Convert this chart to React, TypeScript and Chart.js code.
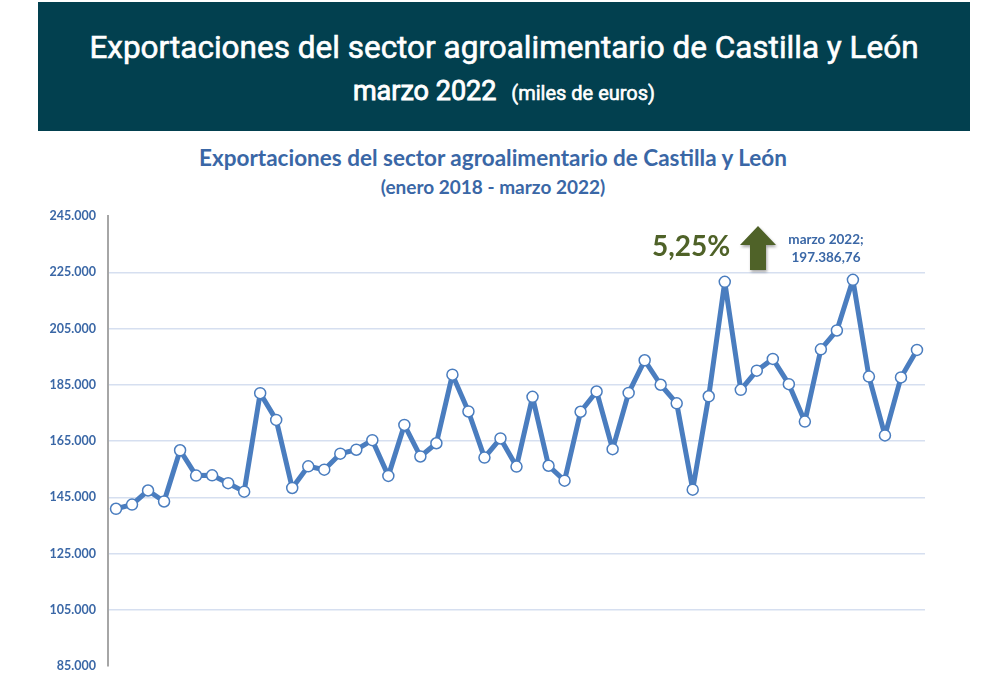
import React, { useEffect, useRef } from "react";
import { Chart, registerables } from "chart.js";

Chart.register(...registerables);

const months = [
  "ene-18","feb-18","mar-18","abr-18","may-18","jun-18","jul-18","ago-18","sep-18","oct-18","nov-18","dic-18",
  "ene-19","feb-19","mar-19","abr-19","may-19","jun-19","jul-19","ago-19","sep-19","oct-19","nov-19","dic-19",
  "ene-20","feb-20","mar-20","abr-20","may-20","jun-20","jul-20","ago-20","sep-20","oct-20","nov-20","dic-20",
  "ene-21","feb-21","mar-21","abr-21","may-21","jun-21","jul-21","ago-21","sep-21","oct-21","nov-21","dic-21",
  "ene-22","feb-22","mar-22",
];

const exportsValues = [
  140900, 142400, 147400, 143500, 161700, 152700, 152800, 150000, 147000, 182000, 172500, 148300,
  156000, 154800, 160500, 161900, 165300, 152600, 170700, 159500, 164200, 188600, 175500, 159100,
  165900, 155900, 180700, 156200, 150900, 175400, 182600, 162100, 182100, 193700, 185000, 178400,
  147700, 180900, 221600, 183200, 190000, 194200, 185200, 171900, 197600, 204300, 222300, 187900,
  167000, 187600, 197386.76,
];

const yMin = 85000;
const yMax = 245000;
const yStep = 20000;

const BLUE_TEXT = "#3A67A6";
const LINE_BLUE = "#4A7DBF";
const GREEN = "#4F6228";

export default function App() {
  const canvasRef = useRef<HTMLCanvasElement | null>(null);

  useEffect(() => {
    document.body.style.margin = "0";
    const canvas = canvasRef.current;
    if (!canvas) return;
    const chart = new Chart(canvas, {
      type: "line",
      data: {
        labels: months,
        datasets: [
          {
            data: exportsValues,
            borderColor: LINE_BLUE,
            borderWidth: 5,
            borderJoinStyle: "round",
            borderCapStyle: "round",
            pointRadius: 5.5,
            pointBorderWidth: 1.5,
            pointBackgroundColor: "#ffffff",
            pointBorderColor: LINE_BLUE,
            tension: 0,
          },
        ],
      },
      options: {
        animation: false,
        responsive: false,
        events: [],
        layout: { padding: { left: 0, right: 73, top: 216, bottom: 23 } },
        plugins: { legend: { display: false }, tooltip: { enabled: false }, title: { display: false } },
        scales: {
          x: {
            type: "category",
            offset: true,
            display: false,
          },
          y: {
            min: yMin,
            max: yMax,
            afterFit: (s: any) => {
              s.width = 108;
            },
            ticks: {
              stepSize: yStep,
              padding: 12,
              color: BLUE_TEXT,
              font: { family: "Lato, 'Open Sans', sans-serif", size: 12.5, weight: "bold" },
              callback: (v: any) => String(Math.round(Number(v))).replace(/\B(?=(\d{3})+(?!\d))/g, "."),
            },
            border: { display: true, color: "#A6A6A6", width: 2 },
            grid: {
              drawTicks: false,
              lineWidth: 1.5,
              color: (ctx: any) => {
                const v = ctx.tick ? ctx.tick.value : 0;
                if (v === yMin || v === yMax) return "rgba(0,0,0,0)";
                return "#D6DFF0";
              },
            },
          },
        },
      },
    });
    return () => chart.destroy();
  }, []);

  const fmt = (v: number) => String(Math.round(v)).replace(/\B(?=(\d{3})+(?!\d))/g, ".");

  return (
    <div style={{ position: "relative", width: 998, height: 689, background: "#fff", overflow: "hidden" }}>
      <div
        style={{
          position: "absolute",
          left: 38,
          top: 2,
          width: 932,
          height: 129,
          background: "#02404F",
          color: "#fff",
          fontFamily: "Roboto, sans-serif",
          textAlign: "center",
          WebkitTextStroke: "0.6px #ffffff",
        }}
      >
        <div style={{ position: "absolute", left: 0, right: 0, top: 27, fontSize: 31.5, fontWeight: 400, lineHeight: "38px" }}>
          Exportaciones del sector agroalimentario de Castilla y León
        </div>
        <div style={{ position: "absolute", left: 0, right: 0, top: 72, lineHeight: "34px", whiteSpace: "pre" }}>
          <span style={{ fontSize: 27, fontWeight: 400, WebkitTextStroke: "0.9px #ffffff" }}>marzo 2022</span>
          <span style={{ fontSize: 20, fontWeight: 400 }}>{"   (miles de euros)"}</span>
        </div>
      </div>
      <div
        style={{
          position: "absolute",
          left: -6,
          width: 998,
          top: 143,
          textAlign: "center",
          color: BLUE_TEXT,
          fontFamily: "Lato, 'Open Sans', sans-serif",
          fontWeight: 700,
          fontSize: 22.5,
          lineHeight: "29px",
        }}
      >
        <div>Exportaciones del sector agroalimentario de Castilla y León</div>
        <div style={{ fontSize: 19 }}>(enero 2018 - marzo 2022)</div>
      </div>
      <canvas ref={canvasRef} width={998} height={689} style={{ position: "absolute", left: 0, top: 0, width: 998, height: 689 }} />
      <div
        style={{
          position: "absolute",
          left: 640,
          top: 228,
          width: 102,
          color: GREEN,
          fontFamily: "Lato, 'Open Sans', sans-serif",
          fontWeight: 700,
          fontSize: 28,
          lineHeight: "34px",
          textAlign: "center",
        }}
      >
        5,25%
      </div>
      <svg
        style={{ position: "absolute", left: 736, top: 222, filter: "drop-shadow(1px 2px 1.5px rgba(0,0,0,0.35))" }}
        width={46}
        height={54}
      >
        <polygon points="4,23 22,4 40,23 30,23 30,48 14,48 14,23" fill={GREEN} />
      </svg>
      <div
        style={{
          position: "absolute",
          left: 776,
          top: 230,
          width: 100,
          color: BLUE_TEXT,
          fontFamily: "Lato, 'Open Sans', sans-serif",
          fontWeight: 700,
          fontSize: 13.5,
          lineHeight: "18px",
          textAlign: "center",
        }}
      >
        <div>marzo 2022;</div>
        <div>{fmt(Math.floor(exportsValues[exportsValues.length - 1]))},76</div>
      </div>
    </div>
  );
}
